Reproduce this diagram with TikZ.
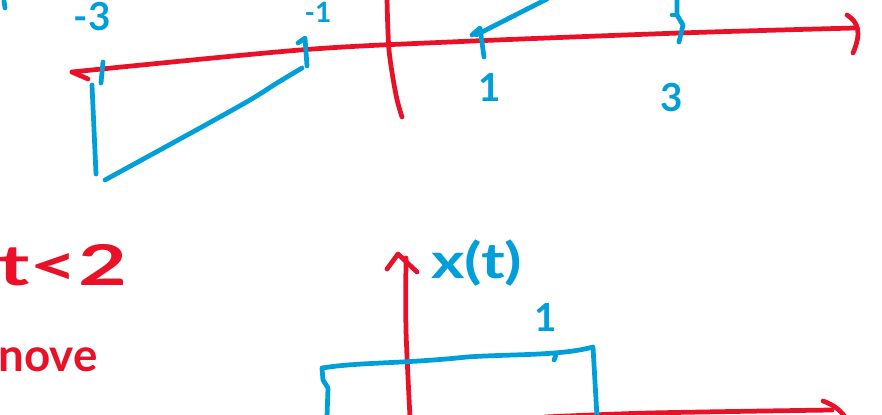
\documentclass[tikz,border=0pt]{standalone}
\usepackage{graphicx}
\usepackage{fontspec}
\setmainfont{Lato}
\definecolor{penred}{RGB}{232,17,40}
\definecolor{penblue}{RGB}{0,159,218}
\begin{document}
\begin{tikzpicture}[x=0.02cm,y=-0.02cm,
  redpen/.style={draw=penred,line width=2.7pt,line cap=round,line join=round},
  bluepen/.style={draw=penblue,line width=2.7pt,line cap=round,line join=round},
  bluelabel/.style={text=penblue,inner sep=0pt,font=\bfseries\fontsize{22}{26}\selectfont},
  redlabel/.style={text=penred,inner sep=0pt,font=\bfseries\fontsize{32}{36}\selectfont}]
\useasboundingbox[fill=white] (0,0) rectangle (882,415);

% ---------- top sketch ----------
% horizontal axis
\coordinate (hL) at (72,72);
\coordinate (hR) at (855,28);
\draw[redpen] plot[smooth] coordinates {(hL) (300,50) (450,42) (680,33) (hR)};
\draw[redpen] (hL) -- (88,79);
\draw[redpen] (847,15) .. controls (858,22) and (862,32) .. (853,53);
% vertical axis
\coordinate (vT) at (387,-2);
\coordinate (vB) at (402,117);
\draw[redpen] plot[smooth] coordinates {(vT) (389,50) (396,95) (vB)};

% ticks
\draw[bluepen] (103,62) -- (101,83);
\draw[bluepen] (298,43) -- (305,38) -- (307,66);
\draw[bluepen] (472,35) -- (480,28) -- (484,57);
\draw[bluepen] (677,-2) -- (677,15) -- (683,25) -- (679,42);
\draw[bluepen] (672,15) -- (677,15);

% signal pieces
\draw[bluepen] (92,85) -- (96,174);
\draw[bluepen] plot[smooth] coordinates {(105,180) (200,128) (250,100) (277,83) (302,68)};
\draw[bluepen] (476,35) -- (547,-1);
\draw[bluepen] (4,1) -- (5,8);

% labels
\node[bluelabel] (lm3) at (92,17) {-3};
\node[bluelabel,font=\bfseries\fontsize{16}{18}\selectfont] (lm1) at (318,12) {-1};
\node[bluelabel] (l1) at (490,88) {1};
\node[bluelabel] (l3) at (672,98) {3};

% ---------- bottom left text ----------
\node[redlabel,anchor=west] (cond) at (-2,265) {\scalebox{1.5}[1]{t<2}};
\node[text=penred,inner sep=0pt,anchor=east,font=\bfseries\fontsize{26}{30}\selectfont] (word) at (98,360) {nove};

% ---------- bottom sketch ----------
\coordinate (bvT) at (406,258);
\coordinate (bvB) at (410,417);
\draw[redpen] plot[smooth] coordinates {(bvT) (406,330) (bvB)};
\draw[redpen] (387,269) -- (398,254) -- (417,272);

\coordinate (bhL) at (545,417);
\coordinate (bhR) at (832,410);
\draw[redpen] plot[smooth] coordinates {(bhL) (650,413) (bhR)};
\draw[redpen] (823,401) .. controls (834,405) and (840,410) .. (845,417);

% rectangular pulse
\draw[bluepen] (327,417) -- (328,388) -- (323,380) -- (322,368)
  .. controls (360,362) and (400,364) .. (467,357)
  .. controls (510,354) and (560,356) .. (593,347) -- (597,417);
\draw[bluepen] (554,360) -- (556,355);

\node[bluelabel,anchor=west,font=\bfseries\fontsize{28}{32}\selectfont] (xt) at (431,263) {\scalebox{1.3}[1]{x(t)}};
\node[bluelabel] (one) at (546,318) {1};
\end{tikzpicture}
\end{document}
